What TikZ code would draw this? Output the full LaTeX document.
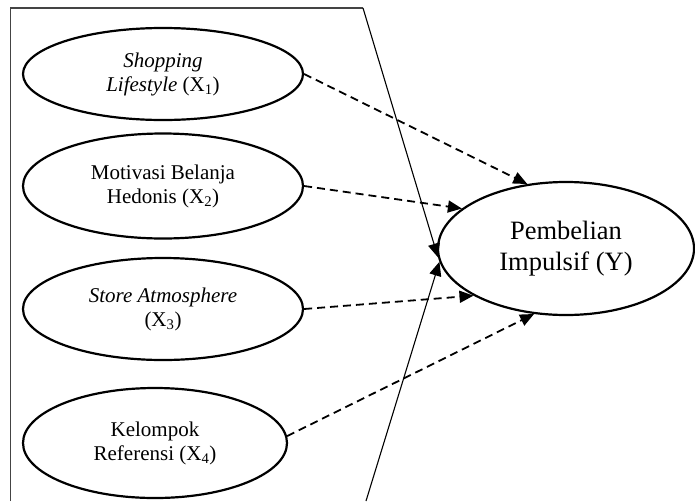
\documentclass[tikz,border=0pt]{standalone}
\usepackage{fontspec}
\setmainfont{Liberation Serif}
\usetikzlibrary{arrows.meta,shapes.geometric}
\definecolor{framegray}{HTML}{444444}
\tikzset{
  varnode/.style={ellipse, draw=black, line width=2.2pt, inner sep=0pt, align=center,
    font=\fontsize{21pt}{24pt}\selectfont},
  ynode/.style={ellipse, draw=black, line width=2.2pt, inner sep=0pt, align=center,
    font=\fontsize{26.5pt}{31pt}\selectfont},
  tip/.style={-{Triangle[length=14pt,width=12pt]}},
  dasharrow/.style={tip, dash pattern=on 8pt off 5pt, line width=1.8pt},
  solidarrow/.style={tip, line width=1.1pt},
  frameline/.style={draw=framegray, line width=1.4pt}
}
\begin{document}
\begin{tikzpicture}[x=1pt,y=-1pt]
\useasboundingbox (0,0) rectangle (695,501);
\node[varnode, minimum width=280pt, minimum height=92pt] (x1) at (163,74)
  {\textit{Shopping}\\\textit{Lifestyle} (X\textsubscript{1})};
\node[varnode, minimum width=280pt, minimum height=105pt] (x2) at (163,186)
  {Motivasi Belanja\\Hedonis (X\textsubscript{2})};
\node[varnode, minimum width=280pt, minimum height=102pt] (x3) at (163,309)
  {\textit{Store Atmosphere}\\(X\textsubscript{3})};
\node[varnode, minimum width=264pt, minimum height=110pt] (x4) at (155,443)
  {Kelompok\\Referensi (X\textsubscript{4})};
\node[ynode, minimum width=256pt, minimum height=133pt] (y) at (566,248.5)
  {Pembelian\\Impulsif (Y)};
\coordinate (bl) at (10.5,501);
\coordinate (tl) at (10.5,8);
\coordinate (tr) at (363,8);
\coordinate (br) at (366,501);
\draw[frameline] (bl) -- (tl) -- (tr);
\draw[solidarrow] (tr) -- (y.184);
\draw[solidarrow] (br) -- (y.186);
\draw[dasharrow] (x1.east) -- (y.121);
\draw[dasharrow] (x2.east) -- (y.159);
\draw[dasharrow] (x3.east) -- (y.207);
\draw[dasharrow] (x4.3) -- (y.244);
\end{tikzpicture}
\end{document}
